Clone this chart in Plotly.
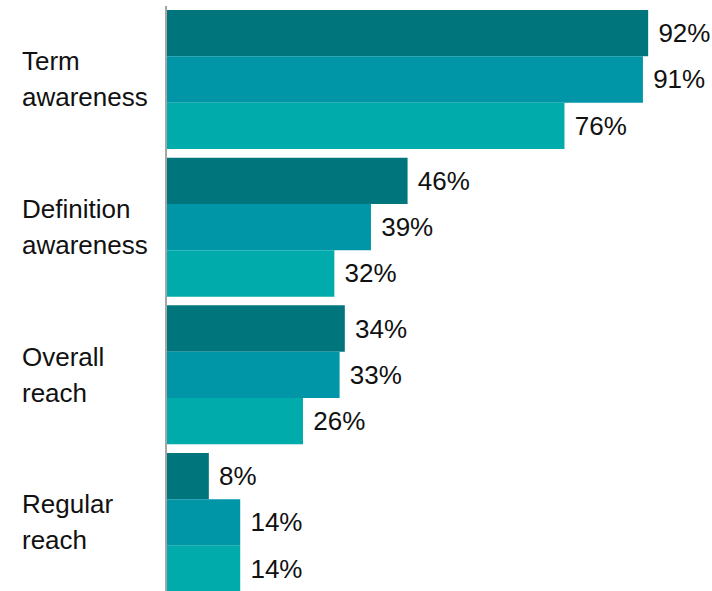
import plotly.graph_objects as go

# Categories (top to bottom) and the three series (dark, mid, light teal)
categories = ["Term awareness", "Definition awareness", "Overall reach", "Regular reach"]
label_lines = [["Term", "awareness"], ["Definition", "awareness"], ["Overall", "reach"], ["Regular", "reach"]]
series_a = [92, 46, 34, 8]
series_b = [91, 39, 33, 14]
series_c = [76, 32, 26, 14]

colors = ['#00767C', '#0096A8', '#00ABAB']
font_family = 'Liberation Sans, Arial, sans-serif'

fig = go.Figure()

for vals, color in zip([series_a, series_b, series_c], colors):
    fig.add_trace(go.Bar(
        y=categories,
        x=vals,
        orientation='h',
        marker=dict(color=color, line=dict(width=0)),
        text=vals,
        texttemplate='\u00a0%{x}%',
        textposition='outside',
        textfont=dict(family=font_family, size=26, color='#111'),
        constraintext='none',
        cliponaxis=False,
    ))

# left-aligned category labels, one annotation per line
annotations = []
for cat, lines in zip(categories, label_lines):
    for i, line in enumerate(lines):
        annotations.append(dict(
            x=-0.282, xref='paper', xanchor='left',
            y=cat, yref='y', yanchor='middle',
            yshift=18 if i == 0 else -18,
            text=line, showarrow=False, align='left',
            font=dict(family=font_family, size=26, color='#111'),
        ))

fig.update_layout(
    barmode='group',
    bargap=0.059,
    bargroupgap=0,
    showlegend=False,
    width=712,
    height=591,
    margin=dict(l=167, r=22, t=6, b=0),
    paper_bgcolor='white',
    plot_bgcolor='white',
    annotations=annotations,
    xaxis=dict(range=[0, 100], visible=False, fixedrange=True),
    yaxis=dict(
        range=[3.464, -0.4977],
        showticklabels=False,
        ticks='',
        showgrid=False,
        zeroline=False,
        showline=True,
        linecolor='#A6A6A6',
        linewidth=2,
        fixedrange=True,
    ),
)

# drop the default 8px body margin so the figure fills the window exactly
fig.write_html(
    "out.html",
    config={'displayModeBar': False},
    post_script="document.body.style.margin='0';document.body.style.overflow='hidden';",
)
